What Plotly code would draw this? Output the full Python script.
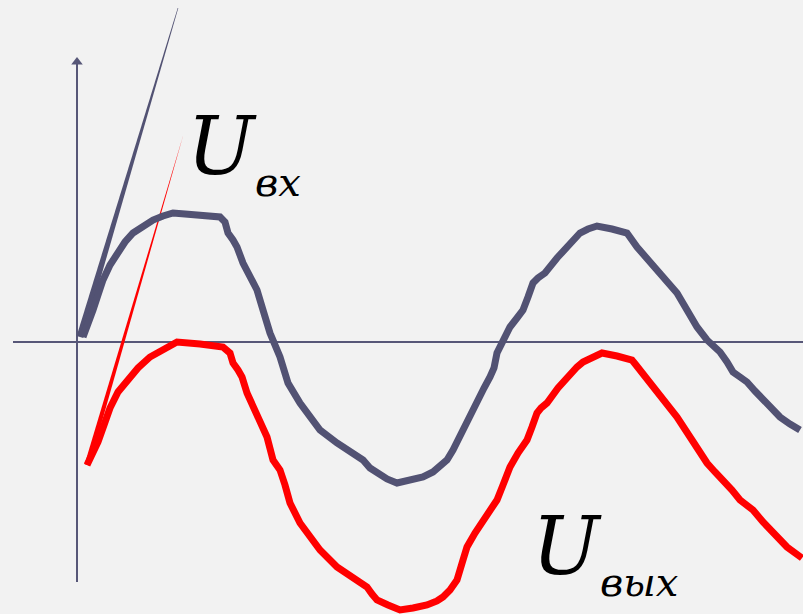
import numpy as np
import plotly.graph_objects as go

# input curve U_vx (time, voltage), origin at axis crossing
t_in = [6, 11, 16, 21, 26, 33, 40, 48, 56, 66, 76, 86, 96, 108, 123, 135, 143, 148, 151,
        156, 160, 166, 173, 180, 186, 193, 203, 211, 223, 233, 243, 260, 273, 286, 293,
        300, 310, 320, 333, 346, 356, 363, 370, 376, 381, 386, 393, 400, 407, 413, 417,
        420, 426, 433, 440, 446, 451, 456, 461, 468, 480, 493, 503, 511, 520, 535, 550,
        555, 560, 573, 586, 600, 610, 620, 630, 636, 643, 650, 656, 663, 670, 678, 686,
        695, 703, 713, 723]
u_in = [5, 17, 32, 47, 62, 77, 89, 100, 109, 116, 122, 126, 129, 128, 127, 126, 125, 120,
        109, 102, 95, 79, 66, 52, 32, 9, -15, -41, -61, -76, -88, -101, -110, -118, -126,
        -131, -137, -141, -138, -135, -130, -125, -118, -108, -98, -85, -71, -58, -46, -35,
        -26, -11, 2, 15, 24, 32, 45, 59, 64, 69, 84, 99, 109, 113, 116, 113, 109, 102, 95,
        80, 65, 49, 32, 15, 2, -3, -10, -20, -30, -35, -40, -49, -58, -67, -75, -82, -88]

# output curve U_vyx
t_out = [10, 15, 21, 27, 33, 41, 50, 61, 73, 86, 100, 123, 146, 153, 156, 161, 165, 170,
         176, 183, 190, 196, 203, 208, 213, 223, 233, 243, 260, 275, 290, 295, 300, 311,
         323, 336, 350, 360, 366, 373, 380, 386, 390, 398, 406, 413, 420, 426, 433, 441,
         450, 455, 460, 464, 470, 481, 493, 500, 506, 515, 525, 540, 555, 559, 563, 576,
         590, 600, 615, 630, 638, 646, 655, 663, 669, 676, 686, 696, 710, 725]
u_out = [-123, -113, -100, -83, -66, -50, -38, -26, -15, -7, 0, -2, -5, -11, -21, -28, -35,
         -51, -65, -78, -95, -118, -128, -143, -161, -181, -195, -208, -225, -235, -245,
         -252, -258, -263, -268, -266, -263, -259, -255, -248, -238, -218, -205, -191, -178,
         -168, -158, -143, -125, -111, -98, -85, -71, -66, -61, -46, -31, -25, -20, -15,
         -11, -14, -18, -23, -28, -45, -61, -75, -98, -121, -130, -138, -148, -158, -163,
         -168, -180, -191, -205, -216]

# tangent lines at the start (start point, end point)
tan_in_t = [3, 101]
tan_in_u = [5, 334]
tan_out_t = [10, 106]
tan_out_u = [-123, 207]

# axis extents
x_axis_t = [-64, 726]
y_axis_u = [-240, 280]

labels = ["U", "U"]
subs = ["вх", "вых"]
label_t = [108, 453]
label_u = [147, -253]
sub_t = [176, 521]
sub_u = [135, -265]

COL_IN = "#525273"
COL_OUT = "#ff0000"
COL_AXIS = "#575778"
BG = "#f2f2f2"
SERIF = "DejaVu Serif"


def taper(t, u, w0, w1):
    """Thin wedge polygon from (t0,u0) with half-width w0 to (t1,u1) with half-width w1."""
    p0 = np.array([t[0], u[0]], float)
    p1 = np.array([t[1], u[1]], float)
    d = p1 - p0
    n = np.array([-d[1], d[0]]) / np.hypot(*d)
    pts = [p0 + n * w0, p1 + n * w1, p1 - n * w1, p0 - n * w0, p0 + n * w0]
    return [p[0] for p in pts], [p[1] for p in pts]


fig = go.Figure()

# axes
fig.add_trace(go.Scatter(x=x_axis_t, y=[0, 0], mode="lines",
                         line=dict(color=COL_AXIS, width=2), hoverinfo="skip"))
fig.add_trace(go.Scatter(x=[0, 0], y=y_axis_u, mode="lines",
                         line=dict(color=COL_AXIS, width=2), hoverinfo="skip"))
fig.add_trace(go.Scatter(x=[0], y=[y_axis_u[1]], mode="markers",
                         marker=dict(symbol="triangle-up", size=10, color=COL_AXIS),
                         hoverinfo="skip"))

# tangents
for tt, uu, col, w in [(tan_in_t, tan_in_u, COL_IN, 3.5), (tan_out_t, tan_out_u, COL_OUT, 2.5)]:
    px, py = taper(tt, uu, w, 0.3)
    fig.add_trace(go.Scatter(x=px, y=py, mode="lines", fill="toself", fillcolor=col,
                             line=dict(width=0, color=col), hoverinfo="skip"))

fig.add_trace(go.Scatter(x=t_in, y=u_in, mode="lines", name="U вх",
                         line=dict(color=COL_IN, width=7)))
fig.add_trace(go.Scatter(x=t_out, y=u_out, mode="lines", name="U вых",
                         line=dict(color=COL_OUT, width=7)))

for i in range(2):
    fig.add_annotation(x=label_t[i], y=label_u[i], text=labels[i],
                       showarrow=False, xanchor="left", yanchor="bottom",
                       font=dict(family=SERIF, size=80, color="black", style="italic"))
    fig.add_annotation(x=sub_t[i], y=sub_u[i], text=subs[i],
                       showarrow=False, xanchor="left", yanchor="bottom",
                       font=dict(family=SERIF, size=40, color="black", style="italic"))

fig.update_layout(
    width=803, height=614,
    margin=dict(l=0, r=0, t=0, b=0),
    paper_bgcolor=BG, plot_bgcolor=BG,
    showlegend=False,
    xaxis=dict(range=[-77, 726], visible=False),
    yaxis=dict(range=[-272, 342], visible=False),
)

fig.write_html("out.html", config={"displayModeBar": False},
               post_script="document.body.style.margin='0';")
